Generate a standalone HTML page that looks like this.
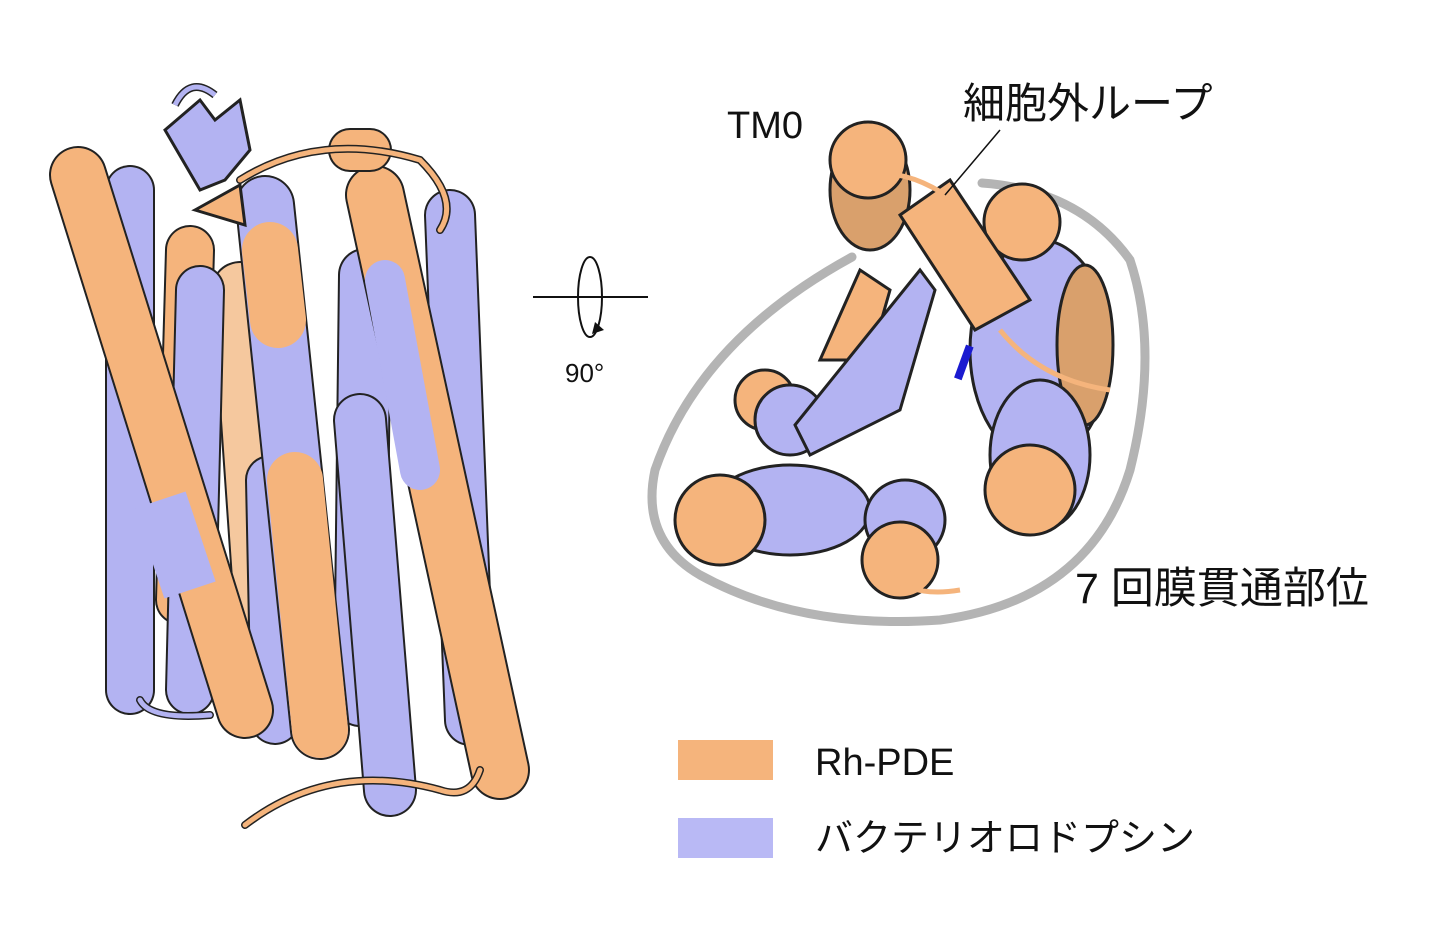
<!DOCTYPE html>
<html><head><meta charset="utf-8"><style>
html,body{margin:0;padding:0;background:#fff;width:1434px;height:935px;overflow:hidden}
svg{display:block}
text{font-family:"Liberation Sans","Noto Sans CJK JP",sans-serif;fill:#111}
</style></head><body>
<svg width="1434" height="935" viewBox="0 0 1434 935" xmlns="http://www.w3.org/2000/svg">
<g stroke-linecap="round" fill="none">
<path d="M240 290 L265 650" stroke="#222" stroke-width="58"/><path d="M240 290 L265 650" stroke="#F5C89E" stroke-width="54"/>
<path d="M190 250 L180 600" stroke="#222" stroke-width="50"/><path d="M190 250 L180 600" stroke="#F5B47C" stroke-width="46"/>
<path d="M365 275 L360 700" stroke="#222" stroke-width="54"/><path d="M365 275 L360 700" stroke="#B3B3F2" stroke-width="50"/>
<path d="M450 215 L470 720" stroke="#222" stroke-width="52"/><path d="M450 215 L470 720" stroke="#B3B3F2" stroke-width="48"/>
<path d="M130 190 L130 690" stroke="#222" stroke-width="50"/><path d="M130 190 L130 690" stroke="#B3B3F2" stroke-width="46"/>
<path d="M200 290 L190 690" stroke="#222" stroke-width="50"/><path d="M200 290 L190 690" stroke="#B3B3F2" stroke-width="46"/>
<path d="M270 480 L275 720" stroke="#222" stroke-width="50"/><path d="M270 480 L275 720" stroke="#B3B3F2" stroke-width="46"/>
<path d="M78 175 L245 710" stroke="#222" stroke-width="58"/><path d="M78 175 L245 710" stroke="#F5B47C" stroke-width="54"/>
<path d="M160 500 L190 590" stroke="#B3B3F2" stroke-width="54" stroke-linecap="butt"/>
<path d="M265 205 L320 730" stroke="#222" stroke-width="60"/><path d="M265 205 L320 730" stroke="#B3B3F2" stroke-width="56"/>
<path d="M295 480 L320 730" stroke="#F5B47C" stroke-width="56"/>
<path d="M270 250 L278 320" stroke="#F5B47C" stroke-width="56"/>
<path d="M375 195 L500 770" stroke="#222" stroke-width="60"/><path d="M375 195 L500 770" stroke="#F5B47C" stroke-width="56"/>
<path d="M385 280 L420 470" stroke="#B3B3F2" stroke-width="40"/>
<path d="M360 420 L390 790" stroke="#222" stroke-width="54"/><path d="M360 420 L390 790" stroke="#B3B3F2" stroke-width="50"/>
<path d="M350 150 L370 150" stroke="#222" stroke-width="44"/><path d="M350 150 L370 150" stroke="#F5B47C" stroke-width="40"/>
<path d="M245 825 Q330 760 440 790 Q470 800 480 770" stroke="#222" stroke-width="8"/><path d="M245 825 Q330 760 440 790 Q470 800 480 770" stroke="#F5B47C" stroke-width="5"/>
<path d="M140 700 Q150 720 210 715" stroke="#222" stroke-width="8"/><path d="M140 700 Q150 720 210 715" stroke="#B3B3F2" stroke-width="5"/>
<path d="M240 180 Q320 130 420 160 Q460 200 440 230" stroke="#222" stroke-width="8"/><path d="M240 180 Q320 130 420 160 Q460 200 440 230" stroke="#F5B47C" stroke-width="5"/>
</g>
<polygon points="165,130 200,100 215,120 240,100 250,150 225,180 200,190" fill="#B3B3F2" stroke="#222" stroke-width="3"/>
<path d="M175 105 Q190 75 215 95" stroke="#222" stroke-width="8" fill="none"/><path d="M175 105 Q190 75 215 95" stroke="#B3B3F2" stroke-width="5" fill="none"/>
<polygon points="195,210 240,185 245,225" fill="#F5B47C" stroke="#222" stroke-width="3"/>

<line x1="533" y1="297" x2="648" y2="297" stroke="#111" stroke-width="2"/>
<ellipse cx="590" cy="297" rx="12" ry="40" fill="none" stroke="#111" stroke-width="2"/>
<polygon points="595,322 604,330 592,334" fill="#111"/>
<text x="565" y="382" font-size="26">90°</text>

<path d="M852 257 Q700 340 655 470 Q640 540 700 575 Q800 630 940 620 Q1090 600 1130 470 Q1160 350 1130 260 Q1080 190 982 183" fill="none" stroke="#B4B4B4" stroke-width="9" stroke-linecap="round"/>
<g stroke="#222" stroke-width="3">
<ellipse cx="1040" cy="350" rx="70" ry="110" fill="#B3B3F2"/>
<ellipse cx="1085" cy="345" rx="28" ry="80" fill="#D9A06C"/>
<circle cx="1022" cy="222" r="38" fill="#F5B47C"/>
<ellipse cx="1040" cy="455" rx="50" ry="75" fill="#B3B3F2"/>
<circle cx="1030" cy="490" r="45" fill="#F5B47C"/>
<ellipse cx="790" cy="510" rx="80" ry="45" fill="#B3B3F2"/>
<circle cx="720" cy="520" r="45" fill="#F5B47C"/>
<circle cx="765" cy="400" r="30" fill="#F5B47C"/>
<circle cx="790" cy="420" r="35" fill="#B3B3F2"/>
<circle cx="905" cy="520" r="40" fill="#B3B3F2"/>
<circle cx="900" cy="560" r="38" fill="#F5B47C"/>
<ellipse cx="870" cy="190" rx="40" ry="60" fill="#D9A06C"/>
<circle cx="868" cy="160" r="38" fill="#F5B47C"/>
<polygon points="900,215 950,180 1030,300 975,330" fill="#F5B47C"/>
<polygon points="820,360 860,270 890,290 870,360" fill="#F5B47C"/>
<polygon points="795,425 920,270 935,290 900,410 810,455" fill="#B3B3F2"/>
</g>
<path d="M855 180 Q900 160 960 205" stroke="#F5B47C" stroke-width="5" fill="none"/>
<path d="M1000 330 Q1040 380 1110 390" stroke="#F5B47C" stroke-width="5" fill="none"/>
<path d="M880 560 Q900 600 960 590" stroke="#F5B47C" stroke-width="5" fill="none"/>
<rect x="960" y="345" width="8" height="35" fill="#1a1ad0" transform="rotate(20 964 362)"/>
<line x1="1000" y1="130" x2="945" y2="195" stroke="#111" stroke-width="1.5"/>
<text x="727" y="138" font-size="38">TM0</text>
<text x="963" y="118" font-size="42">細胞外ループ</text>
<text x="1075" y="603" font-size="43">7 回膜貫通部位</text>

<rect x="678" y="740" width="95" height="40" fill="#F5B47C"/>
<rect x="678" y="818" width="95" height="40" fill="#B9B9F5"/>
<text x="815" y="775" font-size="38">Rh-PDE</text>
<text x="815" y="851" font-size="38">バクテリオロドプシン</text>
</svg>
</body></html>
